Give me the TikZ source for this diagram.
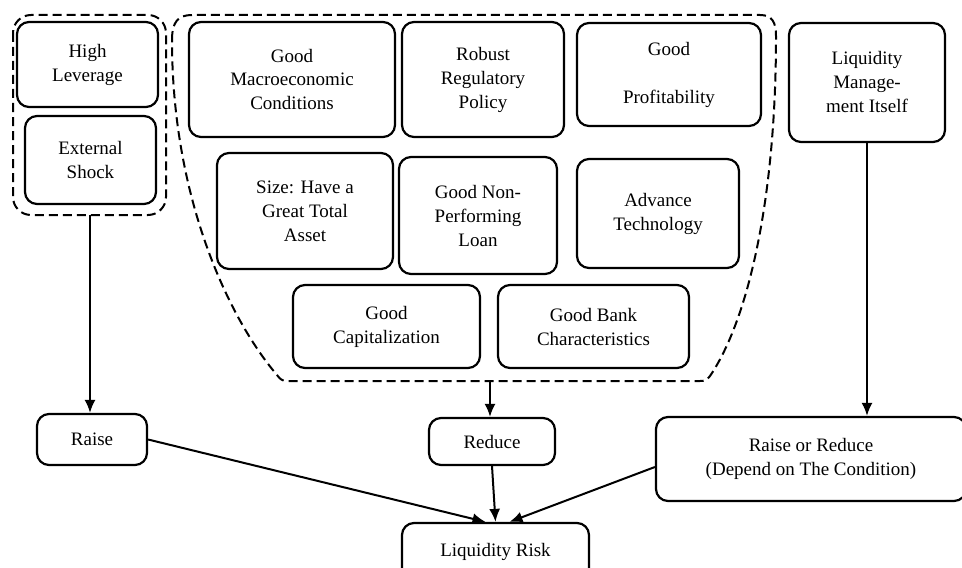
\documentclass[tikz,border=0pt]{standalone}
\usepackage{fontspec}
\setmainfont{Liberation Serif}
\usetikzlibrary{arrows.meta}

\tikzset{
	factor/.style={draw, line width=1.1pt, rounded corners=6pt, align=center, inner sep=1pt, font=\fontsize{9.5}{12}\selectfont},
	group/.style={dash pattern=on 4.5pt off 2.5pt, line width=1pt},
	effect/.style={-{Latex[length=6.5pt,width=5.5pt]}, line width=1pt},
}

\begin{document}
\begin{tikzpicture}[x=0.5pt,y=0.5pt,yscale=-1,xscale=1]
		% Set diagram size to 962 x 567
		\useasboundingbox (0,0) rectangle (962,567);
		\clip (0,0) rectangle (962,567);

		% Left group: leverage and shock
		\node[factor, minimum width=70.5pt, minimum height=42.5pt] (hl) at (87.5,64.5) {High\\Leverage};
		\node[factor, minimum width=65.5pt, minimum height=44pt] (es) at (90.5,160) {External\\Shock};
		\draw[group, rounded corners=9pt] (13,15) rectangle (166,215);
		\coordinate (lbot) at (90,215);

		% Middle group: first row
		\node[factor, minimum width=103pt, minimum height=57.5pt] (gm) at (292,79.5) {Good\\Macroeconomic\\Conditions};
		\node[factor, minimum width=81pt, minimum height=57.5pt] (rp) at (483,79.5) {Robust\\Regulatory\\Policy};
		\node[factor, minimum width=92pt, minimum height=51.5pt] (gp) at (669,74.5) {Good\\[12pt]Profitability};

		% Middle group: second row
		\node[factor, minimum width=88pt, minimum height=58pt] (sz) at (305,211) {Size: Have a\\Great Total\\Asset};
		\node[factor, minimum width=79pt, minimum height=58.5pt] (np) at (478,215.5) {Good Non-\\Performing\\Loan};
		\node[factor, minimum width=81pt, minimum height=54.5pt] (at) at (658,213.5) {Advance\\Technology};

		% Middle group: third row
		\node[factor, minimum width=93.5pt, minimum height=41.5pt] (gc) at (386.5,326.5) {Good\\Capitalization};
		\node[factor, minimum width=95.5pt, minimum height=41.5pt] (gb) at (593.5,326.5) {Good Bank\\Characteristics};

		% Dashed outline round the middle group
		\draw[group] (172,40) .. controls (172,22) and (178,15) .. (192,15) -- (760,15)
			.. controls (772,15) and (776,22) .. (776,36)
			.. controls (776,200) and (748,320) .. (710,376)
			.. controls (707,380) and (705,381) .. (700,381) -- (287,381)
			.. controls (282,381) and (280,379) .. (277,375)
			.. controls (230,320) and (172,200) .. (172,40) -- cycle;
		\coordinate (mbot) at (490,381);

		% Right factor
		\node[factor, minimum width=78pt, minimum height=59.5pt] (lm) at (867,82.5) {Liquidity\\Manage-\\ment Itself};

		% Effects
		\node[factor, minimum width=55pt, minimum height=25.5pt] (raise) at (92,439.5) {Raise};
		\node[factor, minimum width=63pt, minimum height=23.5pt] (reduce) at (492,441.5) {Reduce};
		\node[factor, minimum width=155pt, minimum height=42pt] (rr) at (811,459) {Raise or Reduce\\(Depend on The Condition)};

		% Result
		\node[factor, minimum width=93.5pt, minimum height=28.5pt] (lr) at (495.5,551.5) {Liquidity Risk};

		% Arrows from the causes to the effects
		\draw[effect] (lbot) -- (lbot |- raise.north);
		\draw[effect] (mbot) -- (mbot |- reduce.north);
		\draw[effect] (lm.south) -- (lm.south |- rr.north);

		% Arrows from the effects to the risk
		\draw[effect] (raise.east) -- ([xshift=-5pt]lr.north);
		\draw[effect] (reduce.south) -- (lr.north);
		\draw[effect] ([yshift=4pt]rr.west) -- ([xshift=7pt]lr.north);
	\end{tikzpicture}
\end{document}
